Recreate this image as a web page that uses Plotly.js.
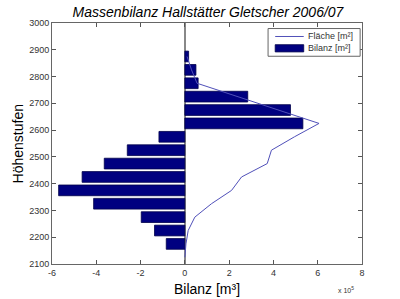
<!DOCTYPE html>
<html>
<head>
<meta charset="utf-8">
<script src="https://cdn.plot.ly/plotly-3.0.1.min.js"></script>
<style>html,body{margin:0;padding:0;background:#fff;}#chart{width:400px;height:299px;}</style>
</head>
<body>
<div id="chart"></div>
<script>
// Elevation bands (m) and mass balance (x 10^5 m³)
const hoehen = [2175, 2225, 2275, 2325, 2375, 2425, 2475, 2525, 2575, 2625, 2675, 2725, 2775, 2825, 2875];
const bilanz = [-0.84, -1.37, -1.97, -4.12, -5.70, -4.64, -3.64, -2.60, -1.17, 5.33, 4.77, 2.84, 0.60, 0.50, 0.17];
// Area curve (x 10^5 m²)
const flaecheHoehen = [2125, 2175, 2225, 2275, 2325, 2375, 2425, 2475, 2525, 2575, 2625, 2675, 2725, 2775, 2825, 2875];
const flaeche = [0.0, 0.05, 0.15, 0.45, 1.2, 2.11, 2.56, 3.72, 3.91, 4.95, 6.06, 4.2, 2.4, 0.55, 0.3, 0.1];
const xTicks = [-6, -4, -2, 0, 2, 4, 6, 8];
const yTicks = [2100, 2200, 2300, 2400, 2500, 2600, 2700, 2800, 2900, 3000];
const seriesNames = ['Fläche [m²]', 'Bilanz [m²]'];

const font = 'Liberation Sans, Arial, sans-serif';
const lineColor = 'rgb(80,80,185)';
const barColor = '#000080';
const traces = [
  {type: 'scatter', mode: 'lines', x: flaeche, y: flaecheHoehen, name: seriesNames[0],
   line: {color: lineColor, width: 1}},
  {type: 'bar', orientation: 'h', x: bilanz, y: hoehen, width: 40, name: seriesNames[1],
   marker: {color: barColor, line: {color: '#00004a', width: 0.8}}}
];
const axisCommon = {
  showgrid: false, ticks: 'inside', ticklen: 4, tickcolor: '#555', tickwidth: 1,
  showline: true, linecolor: '#666', linewidth: 1, mirror: 'ticks',
  tickfont: {family: font, size: 9, color: '#333'}
};
// manual MATLAB-style legend (paper coordinates)
const lg = {x0: 0.697, x1: 0.994, y0: 0.862, y1: 0.977};
const layout = {
  width: 400, height: 299,
  margin: {l: 52, r: 38, t: 23, b: 35},
  paper_bgcolor: '#fff', plot_bgcolor: '#fff',
  font: {family: font},
  showlegend: false,
  title: {text: 'Massenbilanz Hallstätter Gletscher 2006/07',
          font: {family: font, size: 14, style: 'italic', color: '#000'},
          x: 0.52, xanchor: 'center', y: 0.961, yanchor: 'middle'},
  xaxis: Object.assign({}, axisCommon, {
    range: [-6, 8], tickvals: xTicks, ticktext: xTicks.map(String),
    zeroline: true, zerolinecolor: '#888', zerolinewidth: 1.5,
    title: {text: 'Bilanz [m³]', font: {family: font, size: 14, color: '#000'}, standoff: 7}
  }),
  yaxis: Object.assign({}, axisCommon, {
    range: [2100, 3000], tickvals: yTicks, zeroline: false
  }),
  shapes: [
    {type: 'rect', xref: 'paper', yref: 'paper', x0: lg.x0, x1: lg.x1, y0: lg.y0, y1: lg.y1,
     fillcolor: '#fff', line: {color: '#666', width: 1}},
    {type: 'line', xref: 'paper', yref: 'paper', x0: 0.72, x1: 0.812, y0: 0.944, y1: 0.944,
     line: {color: lineColor, width: 1}},
    {type: 'rect', xref: 'paper', yref: 'paper', x0: 0.72, x1: 0.812, y0: 0.880, y1: 0.910,
     fillcolor: barColor, line: {color: '#00004a', width: 0.8}}
  ],
  annotations: [
    {text: 'Höhenstufen', xref: 'paper', yref: 'paper', x: -0.11, y: 0.5, textangle: -90,
     xanchor: 'center', yanchor: 'middle', showarrow: false,
     font: {family: font, size: 14, color: '#000'}},
    {text: seriesNames[0], xref: 'paper', yref: 'paper', x: 0.82, y: 0.944, xanchor: 'left', yanchor: 'middle',
     showarrow: false, font: {family: font, size: 9, color: '#333'}},
    {text: seriesNames[1], xref: 'paper', yref: 'paper', x: 0.82, y: 0.895, xanchor: 'left', yanchor: 'middle',
     showarrow: false, font: {family: font, size: 9, color: '#333'}},
    {text: 'x 10<sup>5</sup>', xref: 'paper', yref: 'paper', x: 0.98, y: -0.085,
     xanchor: 'right', yanchor: 'top', showarrow: false,
     font: {family: font, size: 7, color: '#333'}}
  ]
};
Plotly.newPlot('chart', traces, layout, {displayModeBar: false, staticPlot: true});
</script>
</body>
</html>
